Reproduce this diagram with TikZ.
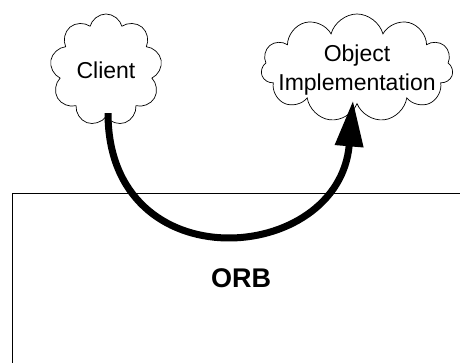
\documentclass[tikz,border=0pt]{standalone}
\usepackage{fontspec}
\setmainfont{Liberation Sans}
\usetikzlibrary{shapes.symbols,arrows.meta}
\tikzset{
  cloudnode/.style={cloud, draw, line width=0.7pt, inner sep=0pt, cloud ignores aspect},
  cloudtext/.style={font=\fontsize{23}{29}\selectfont, align=center},
  orbarrow/.style={line width=7pt, -{Triangle[length=46pt,width=27pt]}},
  orbbox/.style={line width=0.9pt},
}
\begin{document}
\begin{tikzpicture}[x=1pt,y=-1pt]
\useasboundingbox (0,0) rectangle (460,362);
\clip (0,0) rectangle (460,362);
\node[cloudnode, cloud puffs=9, minimum width=112pt, minimum height=112pt,
      label={[cloudtext]center:Client}] (client) at (106,70) {};
\node[cloudnode, cloud puffs=11, minimum width=192pt, minimum height=108pt,
      label={[cloudtext, yshift=-2pt]center:Object\\Implementation}] (obj) at (357,68) {};
\coordinate (boxtl) at (12,193);
\draw[orbbox] (470,193) -- (boxtl) -- (12,370);
\node[font=\fontsize{27}{32}\bfseries\selectfont] (orb) at (241,278) {ORB};
\draw[orbarrow] ([xshift=2pt,yshift=4pt]client.south) .. controls +(0,170) and +(-14,165) .. ([xshift=-4pt,yshift=4pt]obj.south);
\end{tikzpicture}
\end{document}
